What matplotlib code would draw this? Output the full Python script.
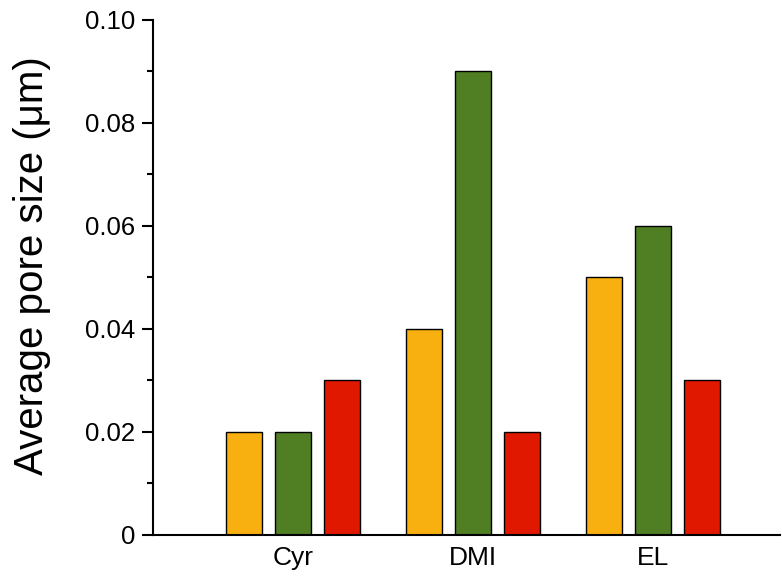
import matplotlib.pyplot as plt
import numpy as np
from matplotlib.ticker import MultipleLocator, FuncFormatter

categories = ["Cyr", "DMI", "EL"]
series_a = [0.02, 0.04, 0.05]
series_b = [0.02, 0.09, 0.06]
series_c = [0.03, 0.02, 0.03]
colors = ["#F7B00F", "#507E23", "#E01800"]

plt.rcParams["font.family"] = ["Liberation Sans", "DejaVu Sans"]

fig = plt.figure(figsize=(7.82, 5.79), dpi=100)
ax = fig.add_axes([0.1957, 0.076, 0.8017, 0.8895])

x = np.arange(len(categories))
width = 0.2
offset = 0.272
for i, vals in enumerate([series_a, series_b, series_c]):
    ax.bar(x + (i - 1) * offset, vals, width, color=colors[i],
           edgecolor="black", linewidth=1.0, zorder=2)

ax.set_xlim(-0.778, 2.706)
ax.set_ylim(0, 0.10)
ax.set_xticks(x)
ax.set_xticklabels(categories)
ax.yaxis.set_major_locator(MultipleLocator(0.02))
ax.yaxis.set_minor_locator(MultipleLocator(0.01))
ax.yaxis.set_major_formatter(FuncFormatter(lambda v, p: "0" if abs(v) < 1e-9 else f"{v:.2f}"))

for side in ("top", "right"):
    ax.spines[side].set_visible(False)
for side in ("left", "bottom"):
    ax.spines[side].set_linewidth(1.5)

ax.tick_params(axis="y", which="major", direction="out", length=8, width=1.5, labelsize=18.5, pad=5)
ax.tick_params(axis="y", which="minor", direction="out", length=4, width=1.5)
ax.tick_params(axis="x", which="both", length=0, labelsize=19, pad=8)

ax.set_ylabel("Average pore size (μm)", fontsize=29)
ax.yaxis.set_label_coords(-0.163, 0.524)

fig.savefig("out.png", dpi=100)
